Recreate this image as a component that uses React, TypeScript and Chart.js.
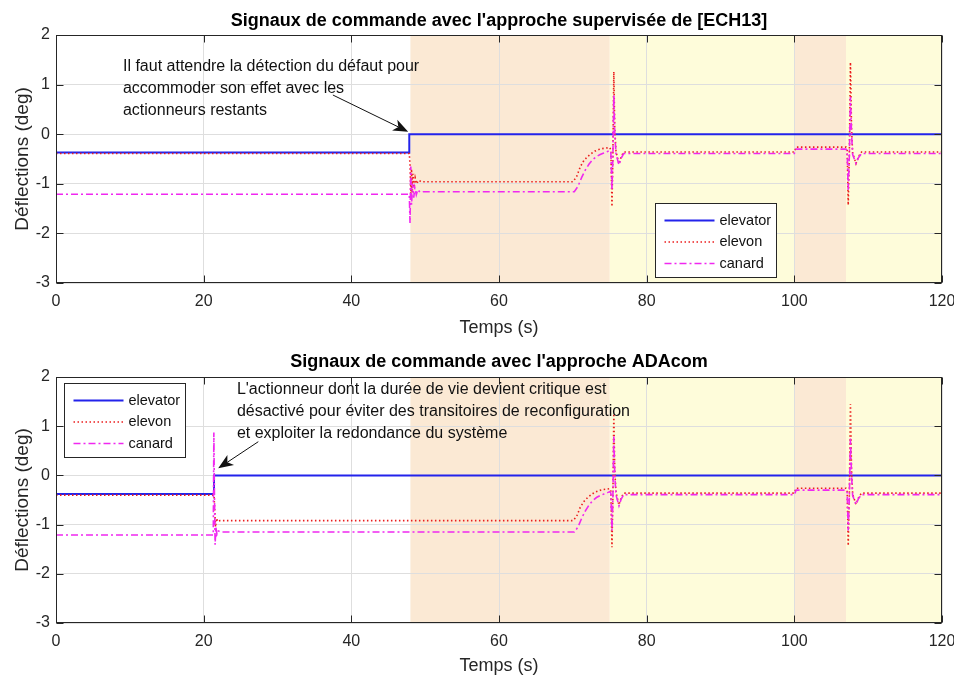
import React, { useEffect, useRef } from 'react';
import { Chart, registerables } from 'chart.js';

Chart.register(...registerables);

// ---------- shared axes / labels ----------
const xTicks = [0, 20, 40, 60, 80, 100, 120];
const yTicks = [-3, -2, -1, 0, 1, 2];
const seriesLabels = ['elevator', 'elevon', 'canard'];
const xLabel = 'Temps (s)';
const yLabel = 'Déflections (deg)';

// shaded phases (same in both subplots)
const regionStart = [48, 75, 100, 107];
const regionEnd = [75, 100, 107, 120];
const regionKind = [0, 1, 0, 1]; // 0 = degraded (orange), 1 = yellow

// ---------- top subplot: [ECH13] ----------
const topTitle = "Signaux de commande avec l'approche supervisée de [ECH13]";
const topElevatorT = [0, 47.85, 47.85, 120];
const topElevatorV = [-0.37, -0.37, 0, 0];
const topElevonT = [0, 47.85, 47.95, 48.05, 48.15, 48.25, 48.35, 48.5, 48.65, 48.85, 49.1, 49.5, 70.0, 70.5, 71.0, 71.5, 72.0, 72.5, 73.0, 73.5, 74.0, 74.5, 75.0, 75.15, 75.3, 75.42, 75.55, 75.68, 75.85, 76.25, 76.55, 76.9, 100.0, 100.25, 107.0, 107.15, 107.3, 107.45, 107.6, 107.75, 107.9, 108.35, 108.7, 109.1, 120];
const topElevonV = [-0.39, -0.39, -0.62, -1.28, -0.7, -1.18, -0.8, -1.08, -0.88, -1.0, -0.93, -0.96, -0.96, -0.86, -0.66, -0.53, -0.45, -0.39, -0.34, -0.31, -0.29, -0.28, -0.27, -0.32, -1.46, -0.5, 1.26, 0.1, -0.35, -0.6, -0.45, -0.36, -0.36, -0.26, -0.26, -0.3, -1.43, -0.4, 1.45, 0.1, -0.38, -0.59, -0.45, -0.36, -0.36];
const topCanardT = [0, 47.85, 47.95, 48.05, 48.15, 48.3, 48.45, 48.6, 48.8, 49.0, 49.3, 49.7, 70.2, 70.7, 71.2, 71.7, 72.2, 72.7, 73.2, 73.7, 74.2, 74.7, 75.0, 75.15, 75.3, 75.42, 75.55, 75.68, 75.85, 76.25, 76.55, 76.9, 100.0, 100.25, 107.0, 107.15, 107.3, 107.45, 107.6, 107.75, 107.9, 108.35, 108.7, 109.1, 120];
const topCanardV = [-1.21, -1.21, -1.79, -0.65, -1.42, -1.0, -1.28, -1.08, -1.22, -1.12, -1.17, -1.16, -1.16, -1.05, -0.87, -0.72, -0.6, -0.51, -0.45, -0.41, -0.38, -0.35, -0.33, -0.36, -1.12, -0.5, 0.79, 0.0, -0.4, -0.62, -0.48, -0.39, -0.39, -0.3, -0.3, -0.34, -1.12, -0.45, 0.75, 0.0, -0.41, -0.59, -0.47, -0.39, -0.39];
const topNote = ['Il faut attendre la détection du défaut pour', 'accommoder son effet avec les', 'actionneurs restants'];
const topNoteAt = [9.07, 1.36];
const topArrowFrom = [37.5, 0.79];
const topArrowTo = [47.7, 0.05];

// ---------- bottom subplot: ADAcom ----------
const botTitle = "Signaux de commande avec l'approche ADAcom";
const botElevatorT = [0, 21.4, 21.4, 120];
const botElevatorV = [-0.38, -0.38, 0, 0];
const botElevonT = [0, 21.4, 21.5, 21.6, 21.75, 21.9, 22.2, 70.0, 70.5, 71.0, 71.5, 72.0, 72.5, 73.0, 73.5, 74.0, 74.5, 75.0, 75.15, 75.3, 75.42, 75.55, 75.68, 75.85, 76.25, 76.55, 76.9, 100.0, 100.25, 107.0, 107.15, 107.3, 107.45, 107.6, 107.75, 107.9, 108.35, 108.7, 109.1, 120];
const botElevonV = [-0.4, -0.4, -0.7, -1.05, -0.87, -0.94, -0.92, -0.92, -0.84, -0.65, -0.53, -0.45, -0.39, -0.34, -0.31, -0.29, -0.28, -0.27, -0.32, -1.46, -0.5, 1.26, 0.1, -0.35, -0.6, -0.45, -0.36, -0.36, -0.26, -0.26, -0.3, -1.43, -0.4, 1.45, 0.1, -0.38, -0.59, -0.45, -0.36, -0.36];
const botCanardT = [0, 21.3, 21.38, 21.46, 21.55, 21.65, 21.8, 22.0, 22.3, 70.2, 70.7, 71.2, 71.7, 72.2, 72.7, 73.2, 73.7, 74.2, 74.7, 75.0, 75.15, 75.3, 75.42, 75.55, 75.68, 75.85, 76.25, 76.55, 76.9, 100.0, 100.25, 107.0, 107.15, 107.3, 107.45, 107.6, 107.75, 107.9, 108.35, 108.7, 109.1, 120];
const botCanardV = [-1.21, -1.21, 0.87, -0.4, -1.41, -1.05, -1.2, -1.13, -1.15, -1.15, -1.05, -0.87, -0.72, -0.6, -0.51, -0.45, -0.41, -0.38, -0.35, -0.33, -0.36, -1.12, -0.5, 0.79, 0.0, -0.4, -0.62, -0.48, -0.39, -0.39, -0.3, -0.3, -0.34, -1.12, -0.45, 0.75, 0.0, -0.41, -0.59, -0.47, -0.39, -0.39];
const botNote = ["L'actionneur dont la durée de vie devient critique est", 'désactivé pour éviter des transitoires de reconfiguration', 'et exploiter la redondance du système'];
const botNoteAt = [24.5, 1.74];
const botArrowFrom = [27.4, 0.685];
const botArrowTo = [21.97, 0.144];

// ---------- styling ----------
const FONT = '"Liberation Sans", Arial, Helvetica, sans-serif';
const AX = '#262626';
const regionColors = ['#fbe9d4', '#fefcda'];
const seriesStyle = [
  { color: 'rgb(35,35,235)', width: 2, dash: [] as number[] },
  { color: 'rgb(235,30,30)', width: 1.6, dash: [1.5, 2.5] },
  { color: 'rgb(240,40,240)', width: 1.6, dash: [7, 3, 2, 3] },
];

const pts = (t: number[], v: number[]) => t.map((x, i) => ({ x, y: v[i] }));

const shadePlugin = {
  id: 'shade',
  beforeDraw(chart: any) {
    const { ctx, chartArea: a, scales } = chart;
    const x = scales.x;
    ctx.save();
    ctx.fillStyle = '#ffffff';
    ctx.fillRect(a.left, a.top, a.right - a.left, a.bottom - a.top);
    regionStart.forEach((s, i) => {
      const x0 = x.getPixelForValue(s);
      const x1 = x.getPixelForValue(regionEnd[i]);
      ctx.fillStyle = regionColors[regionKind[i]];
      ctx.fillRect(x0, a.top, x1 - x0, a.bottom - a.top);
    });
    ctx.restore();
  },
};

const framePlugin = {
  id: 'frame',
  afterDatasetsDraw(chart: any) {
    const { ctx, chartArea: a, scales } = chart;
    const L = Math.round(a.left) + 0.5, R = Math.round(a.right) - 0.5;
    const T = Math.round(a.top) + 0.5, B = Math.round(a.bottom) - 0.5;
    ctx.save();
    ctx.strokeStyle = AX;
    ctx.lineWidth = 1;
    ctx.beginPath();
    xTicks.forEach((v) => {
      const px = Math.round(scales.x.getPixelForValue(v)) + 0.5;
      ctx.moveTo(px, B); ctx.lineTo(px, B - 7);
      ctx.moveTo(px, T); ctx.lineTo(px, T + 7);
    });
    yTicks.forEach((v) => {
      const py = Math.round(scales.y.getPixelForValue(v)) + 0.5;
      ctx.moveTo(L, py); ctx.lineTo(L + 7, py);
      ctx.moveTo(R, py); ctx.lineTo(R - 7, py);
    });
    ctx.stroke();
    ctx.strokeRect(L, T, R - L, B - T);
    ctx.restore();
  },
};

const notePlugin = {
  id: 'note',
  afterDraw(chart: any, _args: any, opts: any) {
    const { ctx, scales } = chart;
    ctx.save();
    ctx.fillStyle = '#111';
    ctx.font = `16px ${FONT}`;
    ctx.textBaseline = 'middle';
    ctx.textAlign = 'left';
    const tx = scales.x.getPixelForValue(opts.at[0]);
    const ty = scales.y.getPixelForValue(opts.at[1]);
    opts.lines.forEach((s: string, i: number) => ctx.fillText(s, tx, ty + i * 22));
    const x0 = scales.x.getPixelForValue(opts.from[0]);
    const y0 = scales.y.getPixelForValue(opts.from[1]);
    const x1 = scales.x.getPixelForValue(opts.to[0]);
    const y1 = scales.y.getPixelForValue(opts.to[1]);
    const ang = Math.atan2(y1 - y0, x1 - x0);
    const hl = 15, hw = 6, notch = 4;
    const bx = x1 - hl * Math.cos(ang), by = y1 - hl * Math.sin(ang);
    const nx = x1 - (hl - notch) * Math.cos(ang), ny = y1 - (hl - notch) * Math.sin(ang);
    ctx.strokeStyle = '#111';
    ctx.lineWidth = 1;
    ctx.beginPath();
    ctx.moveTo(x0, y0);
    ctx.lineTo(nx, ny);
    ctx.stroke();
    ctx.beginPath();
    ctx.moveTo(x1, y1);
    ctx.lineTo(bx + hw * Math.sin(ang), by - hw * Math.cos(ang));
    ctx.lineTo(nx, ny);
    ctx.lineTo(bx - hw * Math.sin(ang), by + hw * Math.cos(ang));
    ctx.closePath();
    ctx.fillStyle = '#111';
    ctx.fill();
    ctx.restore();
  },
};

const boxLegendPlugin = {
  id: 'boxLegend',
  afterDraw(chart: any, _args: any, opts: any) {
    const { ctx, chartArea: a } = chart;
    const left = Math.round(a.left + opts.dx) + 0.5;
    const top = Math.round(a.top + opts.dy) + 0.5;
    const w = 121, h = 74;
    ctx.save();
    ctx.fillStyle = '#ffffff';
    ctx.fillRect(left, top, w, h);
    ctx.strokeStyle = AX;
    ctx.lineWidth = 1;
    ctx.strokeRect(left, top, w, h);
    ctx.font = `14.5px ${FONT}`;
    ctx.textBaseline = 'middle';
    ctx.textAlign = 'left';
    chart.data.datasets.forEach((ds: any, i: number) => {
      const y = top + 17 + i * 21.5;
      ctx.strokeStyle = ds.borderColor;
      ctx.lineWidth = ds.borderWidth;
      ctx.setLineDash(ds.borderDash || []);
      ctx.beginPath();
      ctx.moveTo(left + 9, y);
      ctx.lineTo(left + 59, y);
      ctx.stroke();
      ctx.setLineDash([]);
      ctx.fillStyle = '#111';
      ctx.fillText(ds.label, left + 64, y);
    });
    ctx.restore();
  },
};

function makeConfig(p: any): any {
  const series = [p.elevator, p.elevon, p.canard];
  return {
    type: 'line',
    data: {
      datasets: series.map((d: any, i: number) => ({
        label: seriesLabels[i],
        data: d,
        borderColor: seriesStyle[i].color,
        borderWidth: seriesStyle[i].width,
        borderDash: seriesStyle[i].dash,
        pointRadius: 0,
        tension: 0,
        fill: false,
        order: 3 - i,
      })),
    },
    options: {
      responsive: false,
      animation: false,
      events: [],
      layout: { padding: { left: 0, right: 12, top: 0, bottom: 0 } },
      plugins: {
        legend: { display: false },
        tooltip: { enabled: false },
        title: {
          display: true,
          text: p.title,
          fullSize: false,
          color: '#000',
          font: { family: FONT, size: 18, weight: 'bold', lineHeight: 1.2 },
          padding: p.titlePad,
        },
        note: { lines: p.note, at: p.noteAt, from: p.arrowFrom, to: p.arrowTo },
        boxLegend: p.legend,
      },
      scales: {
        x: {
          type: 'linear',
          min: 0,
          max: 120,
          afterBuildTicks: (s: any) => { s.ticks = xTicks.map((v) => ({ value: v })); },
          afterFit: (s: any) => { s.height = p.xHeight; s.paddingLeft = 0; s.paddingRight = 0; },
          ticks: { color: AX, padding: 9, font: { family: FONT, size: 16 }, callback: (v: any) => String(v) },
          grid: { color: '#dedede', drawTicks: false, lineWidth: 1 },
          border: { display: false },
          title: { display: true, text: xLabel, color: AX, font: { family: FONT, size: 18 }, padding: { top: 0, bottom: p.xTitlePad } },
        },
        y: {
          type: 'linear',
          min: -3,
          max: 2,
          afterBuildTicks: (s: any) => { s.ticks = yTicks.map((v) => ({ value: v })); },
          afterFit: (s: any) => { s.width = 56; s.paddingTop = 0; s.paddingBottom = 0; },
          ticks: { color: AX, padding: 6, font: { family: FONT, size: 16 }, callback: (v: any) => String(v) },
          grid: { color: '#dedede', drawTicks: false, lineWidth: 1 },
          border: { display: false },
          title: { display: true, text: yLabel, color: AX, font: { family: FONT, size: 19 }, padding: { top: 11, bottom: 0 } },
        },
      },
    },
    plugins: [shadePlugin, framePlugin, notePlugin, boxLegendPlugin],
  };
}

export default function App() {
  const topRef = useRef<HTMLCanvasElement | null>(null);
  const botRef = useRef<HTMLCanvasElement | null>(null);
  useEffect(() => {
    document.body.style.margin = '0';
    const c1 = new Chart(topRef.current as HTMLCanvasElement, makeConfig({
      title: topTitle,
      titlePad: { top: 10.7, bottom: 2.7 },
      xHeight: 57,
      xTitlePad: 1.2,
      elevator: pts(topElevatorT, topElevatorV),
      elevon: pts(topElevonT, topElevonV),
      canard: pts(topCanardT, topCanardV),
      note: topNote, noteAt: topNoteAt, arrowFrom: topArrowFrom, arrowTo: topArrowTo,
      legend: { dx: 599, dy: 168 },
    }));
    const c2 = new Chart(botRef.current as HTMLCanvasElement, makeConfig({
      title: botTitle,
      titlePad: { top: 11.7, bottom: 3.7 },
      xHeight: 56,
      xTitlePad: 2.2,
      elevator: pts(botElevatorT, botElevatorV),
      elevon: pts(botElevonT, botElevonV),
      canard: pts(botCanardT, botCanardV),
      note: botNote, noteAt: botNoteAt, arrowFrom: botArrowFrom, arrowTo: botArrowTo,
      legend: { dx: 8.3, dy: 6.3 },
    }));
    return () => { c1.destroy(); c2.destroy(); };
  }, []);
  return (
    <div style={{ position: 'absolute', left: 0, top: 0, width: 954, height: 679, background: '#ffffff' }}>
      <canvas ref={topRef} width={954} height={340} style={{ display: 'block' }} />
      <canvas ref={botRef} width={954} height={339} style={{ display: 'block' }} />
    </div>
  );
}
